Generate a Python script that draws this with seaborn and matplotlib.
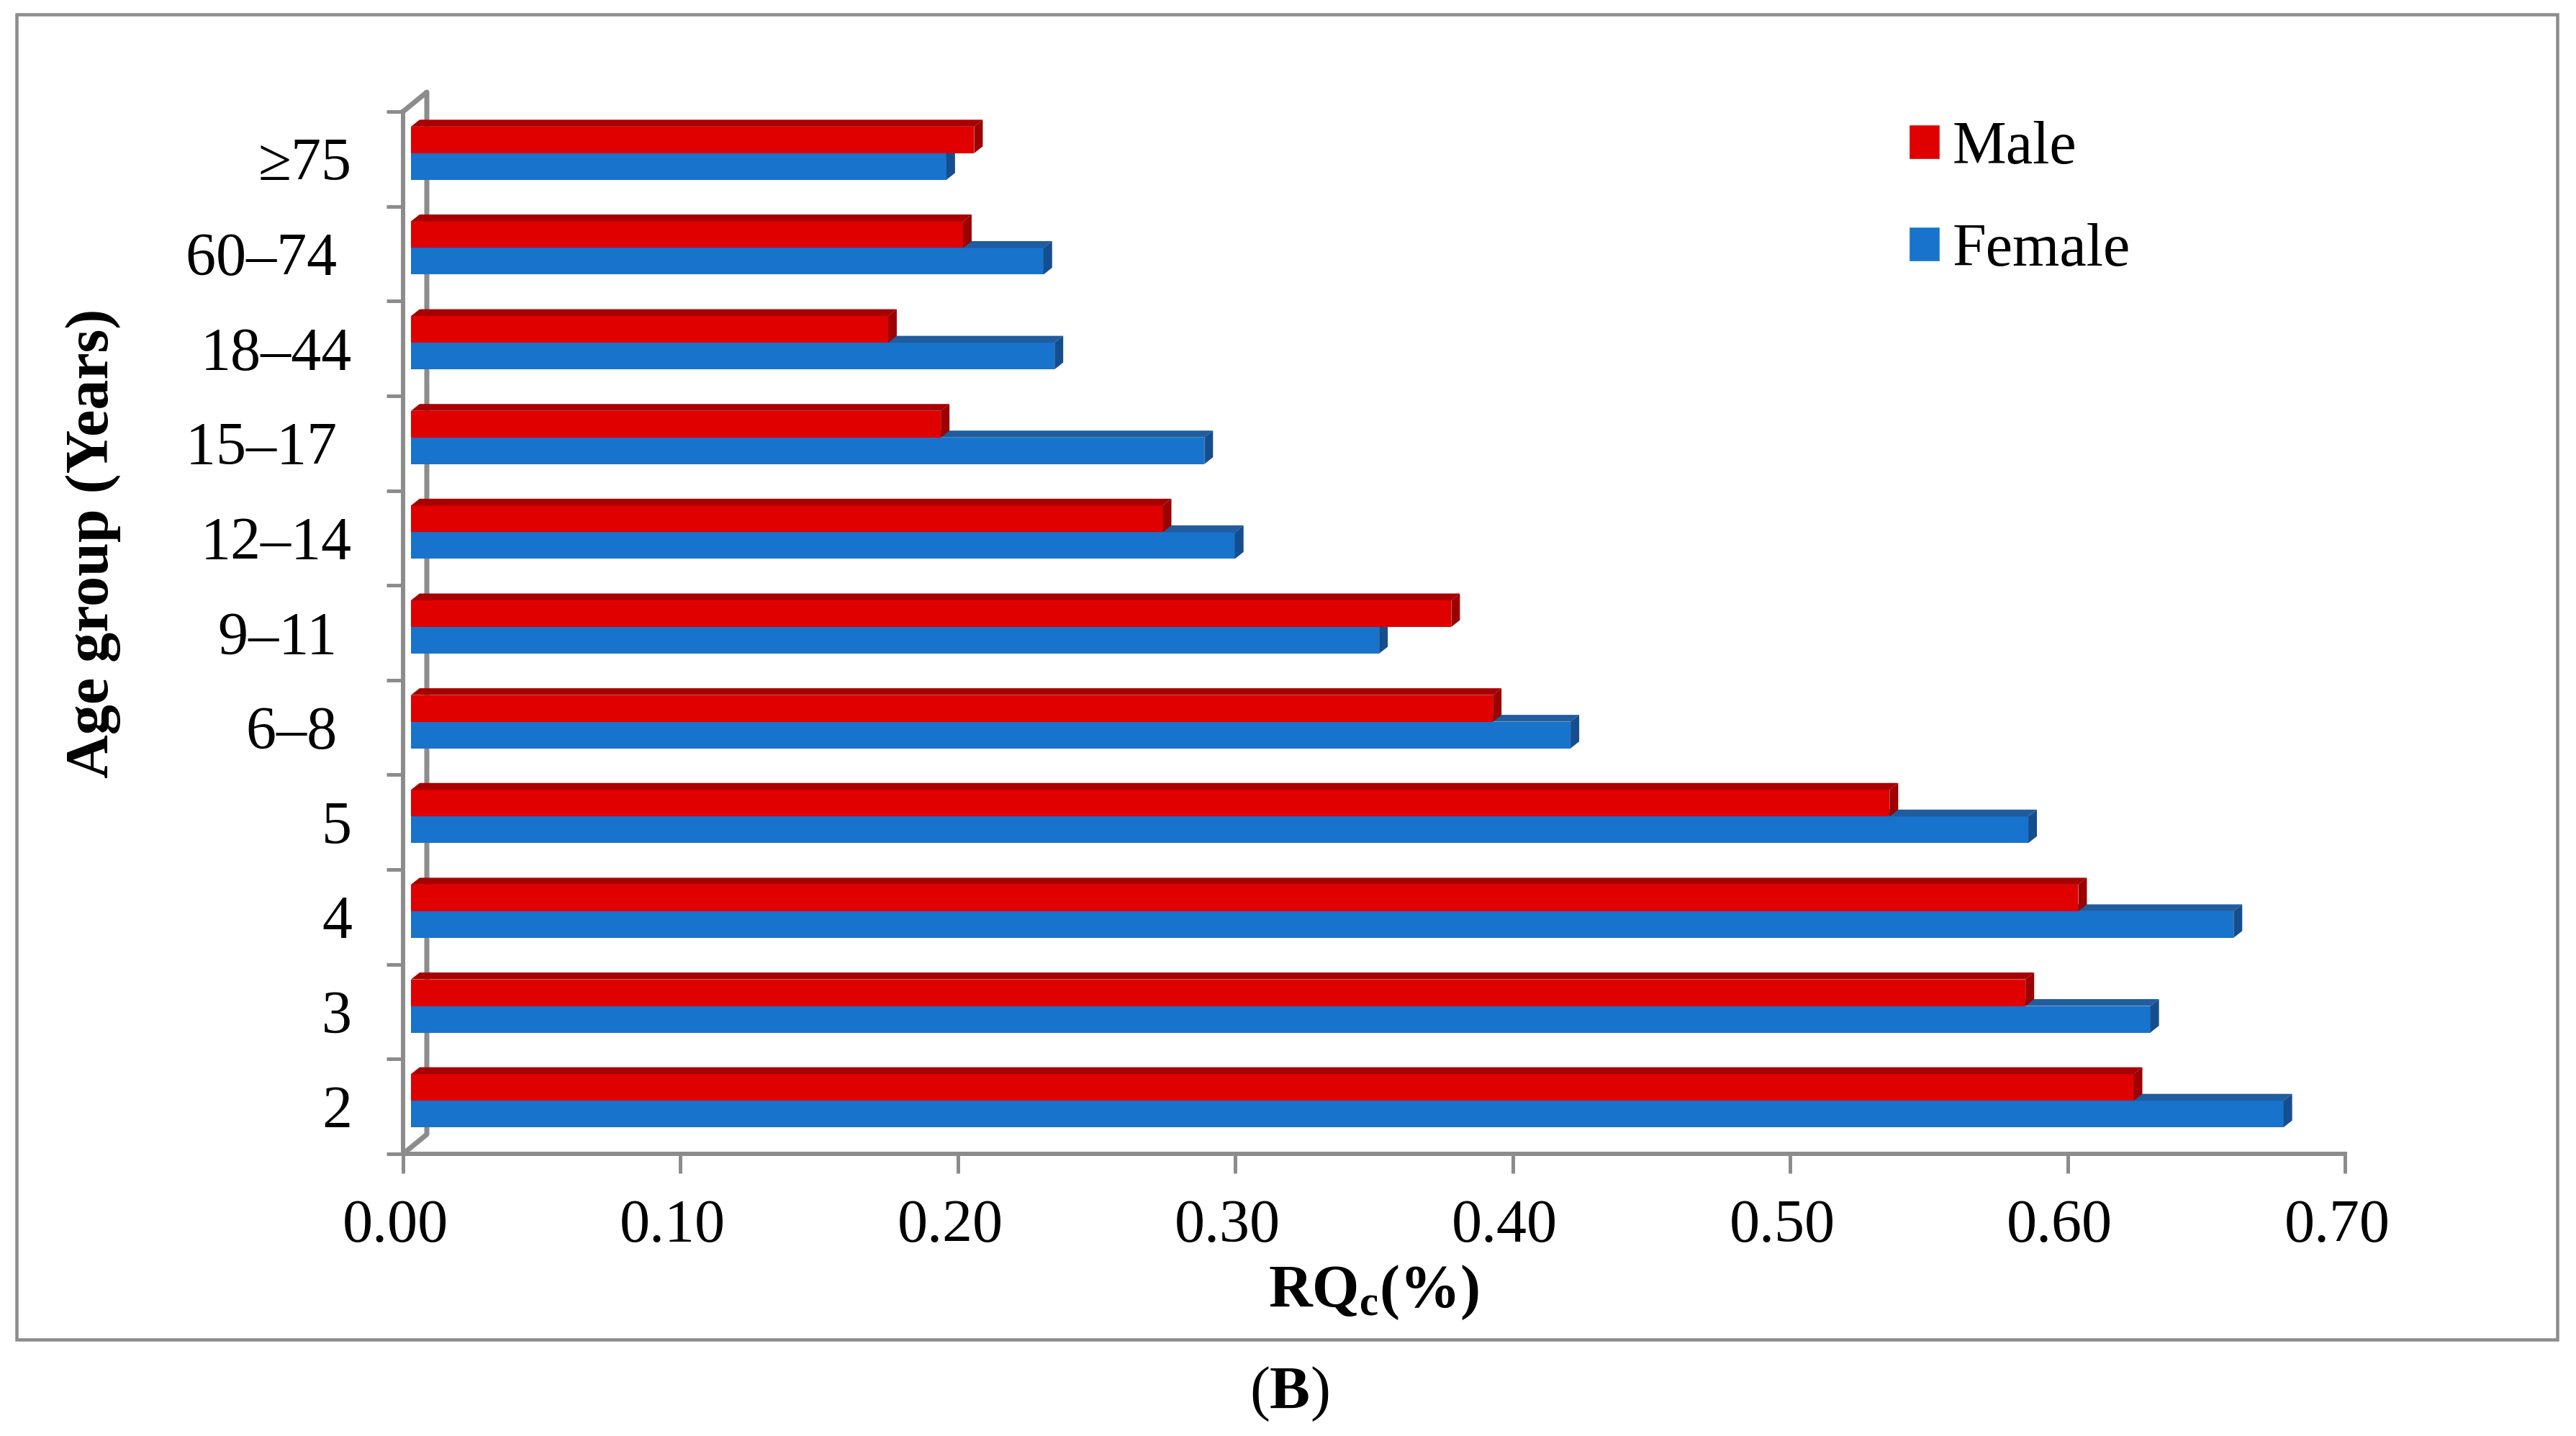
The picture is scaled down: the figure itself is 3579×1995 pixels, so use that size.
import numpy as np
import pandas as pd
import matplotlib
matplotlib.use("Agg")
import matplotlib.pyplot as plt
from matplotlib.patches import Polygon, Rectangle, Patch
from matplotlib.lines import Line2D
from matplotlib.transforms import ScaledTranslation
import seaborn as sns

# ==================================================
# DATA
# ==================================================

age_groups = ["≥75", "60–74 ", "18–44", "15–17 ", "12–14", "9–11 ", "6–8 ", "5", "4", "3", "2"]
male = [0.203, 0.199, 0.172, 0.191, 0.271, 0.375, 0.390, 0.533, 0.601, 0.582, 0.621]
female = [0.193, 0.228, 0.232, 0.286, 0.297, 0.349, 0.418, 0.583, 0.657, 0.627, 0.675]
x_ticks = [0.00, 0.10, 0.20, 0.30, 0.40, 0.50, 0.60, 0.70]

df = pd.DataFrame({
    "age": age_groups * 2,
    "value": male + female,
    "sex": ["Male"] * len(male) + ["Female"] * len(female),
})

# ==================================================
# STYLE
# ==================================================

W, H, DPI = 3579, 1995, 100
PT = 72 / DPI  # pixels to points

sns.set_theme(style="white")
plt.rcParams["font.family"] = ["Liberation Serif", "DejaVu Sans"]
plt.rcParams["text.color"] = "black"
plt.rcParams["mathtext.fontset"] = "custom"
plt.rcParams["mathtext.rm"] = "Liberation Serif"
plt.rcParams["mathtext.bf"] = "Liberation Serif:bold"
plt.rcParams["mathtext.it"] = "Liberation Serif:italic"

FS = 84 * PT
GREY = "#8c8c8c"
colors = {"Male": "#e00000", "Female": "#1873cc"}
top_colors = {"Male": "#a80000", "Female": "#205c9e"}
side_colors = {"Male": "#9c0000", "Female": "#154e8f"}

fig = plt.figure(figsize=(W / DPI, H / DPI), dpi=DPI, facecolor="white")
ax = fig.add_axes([560 / W, 1 - 1603 / H, 2698 / W, 1448 / H])
ax.patch.set_alpha(0)

# ==================================================
# BARS
# ==================================================

sns.barplot(
    data=df, y="age", x="value", hue="sex", order=age_groups,
    hue_order=["Male", "Female"], palette=colors, orient="h",
    width=0.562, gap=0, saturation=1, legend=False, ax=ax,
)

ax.set_xlim(0, 0.70)
ax.set_ylim(10.5, -0.5)

# pixel sizes of the fake 3D look, turned into data units
px_x = 0.70 / 2698
px_y = 11 / 1448
front_dx, front_dy = 11 * px_x, -8 * px_y
depth_dx, depth_dy = 12 * px_x, -9.5 * px_y

for container, sex, z in zip(ax.containers, ["Male", "Female"], [5, 3]):
    for bar in container:
        bar.set_x(bar.get_x() + front_dx)
        bar.set_y(bar.get_y() + front_dy)
        bar.set_zorder(z)
        bar.set_linewidth(0)
        x0, x1 = bar.get_x(), bar.get_x() + bar.get_width()
        y0, y1 = bar.get_y(), bar.get_y() + bar.get_height()
        ax.add_patch(Polygon(
            [(x0, y0), (x0 + depth_dx, y0 + depth_dy), (x1 + depth_dx, y0 + depth_dy), (x1, y0)],
            facecolor=top_colors[sex], linewidth=0, zorder=z,
        ))
        ax.add_patch(Polygon(
            [(x1, y0), (x1 + depth_dx, y0 + depth_dy), (x1 + depth_dx, y1 + depth_dy), (x1, y1)],
            facecolor=side_colors[sex], linewidth=0, zorder=z,
        ))

# ==================================================
# AXES
# ==================================================

sns.despine(ax=ax)
for side in ["left", "bottom"]:
    ax.spines[side].set_color(GREY)
    ax.spines[side].set_linewidth(6 * PT)
    ax.spines[side].set_zorder(2)

ax.set_xticks(x_ticks, [f"{t:.2f}" for t in x_ticks])
ax.set_yticks(np.arange(len(age_groups) + 1) - 0.5, [""] * (len(age_groups) + 1))
ax.set_yticks(np.arange(len(age_groups)), age_groups, minor=True)
ax.tick_params(axis="x", which="major", length=27 * PT, width=5 * PT, color=GREY,
               labelsize=FS, labelcolor="black", pad=36 * PT, bottom=True)
ax.tick_params(axis="y", which="major", length=23 * PT, width=5 * PT, color=GREY, left=True)
ax.tick_params(axis="y", which="minor", length=0, labelsize=FS, labelcolor="black",
               pad=71 * PT, left=True)

# x labels sit a bit left of their ticks in the original
shift_x = ScaledTranslation(-11 / DPI, 0, fig.dpi_scale_trans)
for lab in ax.get_xticklabels():
    lab.set_transform(lab.get_transform() + shift_x)

ax.set_xlabel("")
ax.set_ylabel("")

# back wall edge of the 3D frame
wall_dx, wall_dy = 33 * px_x, 27 * px_y
wall_x = [0, wall_dx, wall_dx, 0]
wall_y = [10.5, 10.5 - wall_dy, -0.5 - wall_dy, -0.5]
ax.add_line(Line2D(wall_x, wall_y, color=GREY, lw=7 * PT, zorder=1, clip_on=False,
                   solid_joinstyle="round"))

# ==================================================
# LEGEND
# ==================================================

handles = [Patch(facecolor=colors["Male"], label="Male"),
           Patch(facecolor=colors["Female"], label="Female")]
fig.legend(
    handles=handles, loc="upper left", bbox_to_anchor=(2652 / W, 1 - 168 / H),
    frameon=False, fontsize=FS, handlelength=0.51, handleheight=0.51,
    handletextpad=0.21, labelspacing=0.77, borderpad=0, borderaxespad=0,
)

# ==================================================
# OUTER TEXT AND FRAME
# ==================================================

fig.text(1909 / W, 1 - 1796 / H, r"$\mathbf{RQ_c(\%)}$", fontsize=FS, ha="center", va="center")
fig.text(130 / W, 1 - 755 / H, "Age group (Years)", fontsize=FS, fontweight="bold",
         rotation=90, ha="center", va="center")
fig.text(1791 / W, 1 - 1937 / H, r"$\mathrm{(}\mathbf{B}\mathrm{)}$", fontsize=FS,
         ha="center", va="center")

fig.add_artist(Rectangle((22.5 / W, 1 - 1861 / H), (3552.5 - 22.5) / W, (1861 - 20) / H,
                         transform=fig.transFigure, fill=False, edgecolor=GREY,
                         linewidth=4.5 * PT))

fig.savefig("out.png", dpi=DPI, facecolor="white")
